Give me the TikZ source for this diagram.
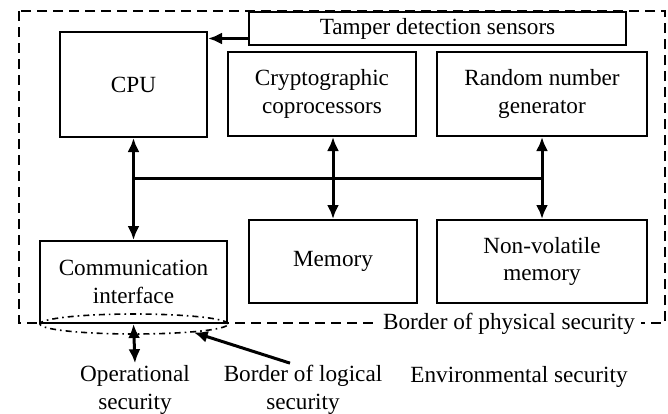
\documentclass[tikz,border=0pt]{standalone}
\usepackage{fontspec}
\setmainfont{Liberation Serif}
\usetikzlibrary{arrows.meta,shapes.geometric}
\tikzset{
	blk/.style={draw, line width=1pt, fill=white, align=center, inner sep=0pt},
	lbl/.style={align=center, inner sep=1pt},
	link/.style={line width=1.5pt, {Latex[length=7pt,width=6pt]}-{Latex[length=7pt,width=6pt]}},
	feed/.style={line width=1.5pt, -{Latex[length=7pt,width=6pt]}},
	wire/.style={line width=1.5pt},
	border/.style={line width=0.9pt, dash pattern=on 5pt off 3pt},
}

\begin{document}
\begin{tikzpicture}[x=0.5pt, y=-0.5pt, font=\fontsize{11.6}{13.8}\selectfont]
		%%%%% START %%%%%
		\useasboundingbox (0,0) rectangle (668,413);
		
		\draw[border] (19,11) rectangle (665,323);
		\node[lbl, fill=white, inner xsep=3pt] (phys) at (509,324) {Border of physical security};
		
		\node[blk, minimum width=73.5pt, minimum height=52.5pt] (cpu) at (133.5,84.5) {CPU};
		\node[blk, minimum width=188.5pt, minimum height=16.5pt] (tamper) at (437.5,28.5) {Tamper detection sensors};
		\node[blk, minimum width=94pt, minimum height=42pt] (crypto) at (322,94) {Cryptographic\\coprocessors};
		\node[blk, minimum width=105pt, minimum height=42pt] (rng) at (542,94) {Random number\\generator};
		
		\node[blk, minimum width=93.5pt, minimum height=41pt] (comm) at (133.5,282) {Communication\\interface};
		\node[blk, minimum width=84pt, minimum height=41.5pt] (memory) at (333,261.5) {Memory};
		\node[blk, minimum width=105pt, minimum height=41.5pt] (nvm) at (542,261.5) {Non-volatile\\memory};
		
		\node[ellipse, draw, line width=0.8pt, dash dot, minimum width=94pt, minimum height=10pt, inner sep=0pt] (logical) at (134,324) {};
		
		\draw[feed] ([yshift=-5pt]tamper.west) -- ([yshift=-5pt]tamper.west -| cpu.east);
		
		\coordinate (bus) at (0,178);
		\draw[wire] (cpu.south |- bus) -- (rng.south |- bus);
		\draw[link] (cpu.south) -- (comm.north);
		\draw[link] (crypto.south -| memory.north) -- (memory.north);
		\draw[link] (rng.south) -- (nvm.north);
		
		\node[lbl] (oper) at (135,390) {Operational\\security};
		\node[lbl] (loglbl) at (303,390) {Border of logical\\security};
		\node[lbl] (env) at (519,377) {Environmental security};
		
		\draw[link] (comm.south) -- (oper.north);
		\draw[feed] ([xshift=-6.5pt]loglbl.north) -- (logical.-8);
		
		%%%%% END %%%%%
\end{tikzpicture}
\end{document}
